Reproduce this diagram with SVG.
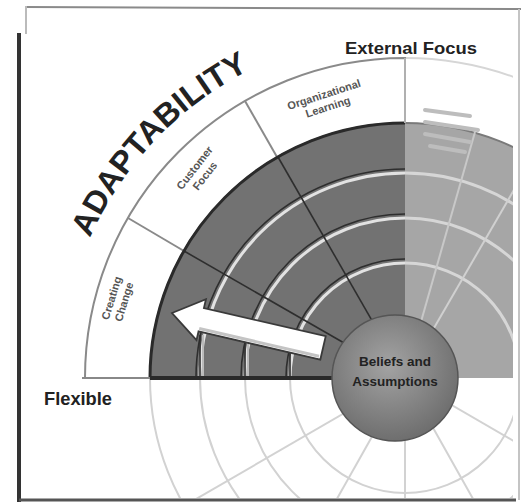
<svg xmlns="http://www.w3.org/2000/svg" width="524" height="504" viewBox="0 0 524 504">
  <defs>
    <style>
      .lbl{font-family:"Liberation Sans",Arial,sans-serif;font-weight:bold;fill:#222}
      .seg{font-family:"Liberation Sans",Arial,sans-serif;font-weight:bold;font-size:11px;fill:#555;text-anchor:middle}
      .faint{fill:none;stroke:#d2d2d2;stroke-width:2}
      .wline{fill:none;stroke:#e2e2e2;stroke-width:3}
      .dline{fill:none;stroke:#2e2e2e;stroke-width:1.6}
    </style>
    <clipPath id="ul"><rect x="20" y="10" width="385" height="368"/></clipPath>
    <clipPath id="ur"><rect x="405" y="10" width="108" height="368"/></clipPath>
    <clipPath id="lo"><rect x="22" y="378" width="491" height="120"/></clipPath>
    <radialGradient id="core" cx="0.45" cy="0.4" r="0.65">
      <stop offset="0" stop-color="#a3a3a3"/>
      <stop offset="1" stop-color="#6a6a6a"/>
    </radialGradient>
    <path id="arcText" d="M 90,238 A 345 345 0 0 1 276,58"/>
  </defs>

  <rect width="524" height="504" fill="#fff"/>

  <!-- frame -->
  <g id="frame">
    <line x1="25" y1="7" x2="521" y2="9" stroke="#8a8a8a" stroke-width="2"/>
    <line x1="519" y1="9" x2="519" y2="500" stroke="#c4c4c4" stroke-width="2"/>
    <line x1="19" y1="33" x2="19" y2="502" stroke="#333" stroke-width="4"/>
    <line x1="19" y1="500" x2="516" y2="500" stroke="#555" stroke-width="3"/>
    <line x1="26" y1="6" x2="26" y2="34" stroke="#bbb" stroke-width="2"/>
  </g>

  <!-- lower faded quadrants -->
  <g id="lower-quadrants" clip-path="url(#lo)">
    <circle cx="405" cy="378" r="255" class="faint" stroke="#c4c4c4"/>
    <circle cx="405" cy="378" r="205" class="faint"/>
    <circle cx="405" cy="378" r="160" class="faint"/>
    <circle cx="405" cy="378" r="115" class="faint"/>
    <line x1="405" y1="378" x2="184" y2="506" class="faint"/>
    <line x1="405" y1="378" x2="280" y2="600" class="faint"/>
    <line x1="405" y1="378" x2="530" y2="600" class="faint"/>
    <line x1="405" y1="378" x2="626" y2="506" class="faint"/>
    <line x1="405" y1="378" x2="405" y2="500" class="faint"/>
  </g>

  <!-- upper right faded quadrant -->
  <g id="upper-right-quadrant" clip-path="url(#ur)">
    <circle cx="405" cy="378" r="255" fill="#a6a6a6"/>
    <circle cx="405" cy="378" r="320" fill="none" stroke="#d6d6d6" stroke-width="2"/>
    <circle cx="405" cy="378" r="255" fill="none" stroke="#7a7a7a" stroke-width="2"/>
    <circle cx="405" cy="378" r="205" fill="none" stroke="#d6d6d6" stroke-width="3"/>
    <circle cx="405" cy="378" r="160" fill="none" stroke="#d6d6d6" stroke-width="3"/>
    <circle cx="405" cy="378" r="115" fill="none" stroke="#d6d6d6" stroke-width="3"/>
    <line x1="405" y1="378" x2="533" y2="157" stroke="#d0d0d0" stroke-width="2"/>
    <line x1="405" y1="378" x2="475" y2="132" stroke="#c8c8c8" stroke-width="2"/>
    <g stroke="#bdbdbd" stroke-width="4" stroke-linecap="round">
      <line x1="425" y1="110" x2="470" y2="116"/>
      <line x1="425" y1="122" x2="478" y2="130"/>
      <line x1="425" y1="134" x2="470" y2="142"/>
      <line x1="430" y1="146" x2="465" y2="152"/>
    </g>
  </g>

  <!-- upper left: ADAPTABILITY band -->
  <g id="adaptability-band">
    <path d="M 85,378 A 320 320 0 0 1 405,58 L 405,123 A 255 255 0 0 0 150,378 Z" fill="#fff" stroke="#8a8a8a" stroke-width="2"/>
    <line x1="128" y1="218" x2="184" y2="251" stroke="#8a8a8a" stroke-width="2"/>
    <line x1="245" y1="101" x2="277" y2="157" stroke="#8a8a8a" stroke-width="2"/>
    <text class="lbl" font-size="32" textLength="236" lengthAdjust="spacingAndGlyphs"><textPath href="#arcText">ADAPTABILITY</textPath></text>
  </g>

  <g id="creating-change">
    <text class="seg" transform="translate(118,300) rotate(-73)"><tspan x="0" y="-3">Creating</tspan><tspan x="0" y="10">Change</tspan></text>
  </g>
  <g id="customer-focus">
    <text class="seg" transform="translate(200,172) rotate(-52)"><tspan x="0" y="-3">Customer</tspan><tspan x="0" y="10">Focus</tspan></text>
  </g>
  <g id="organizational-learning">
    <text class="seg" transform="translate(326,101) rotate(-18)"><tspan x="0" y="-3">Organizational</tspan><tspan x="0" y="10">Learning</tspan></text>
  </g>

  <!-- dark quadrant -->
  <g id="dark-quadrant" clip-path="url(#ul)">
    <path d="M 150,378 A 255 255 0 0 1 405,123 L 405,378 Z" fill="#727272"/>
    <circle cx="405" cy="378" r="205" class="wline"/>
    <circle cx="405" cy="378" r="209" class="dline"/>
    <circle cx="405" cy="378" r="160" class="wline"/>
    <circle cx="405" cy="378" r="164" class="dline"/>
    <circle cx="405" cy="378" r="115" class="wline"/>
    <circle cx="405" cy="378" r="119" class="dline"/>
    <line x1="405" y1="378" x2="278" y2="157" class="dline"/>
    <line x1="405" y1="378" x2="184" y2="251" class="dline"/>
    <line x1="200" y1="335" x2="200" y2="378" class="dline"/>
    <line x1="245" y1="338" x2="245" y2="378" class="dline"/>
    <line x1="290" y1="345" x2="290" y2="378" class="dline"/>
    <line x1="203" y1="335" x2="203" y2="378" stroke="#bbb" stroke-width="2"/>
    <line x1="248" y1="340" x2="248" y2="378" stroke="#bbb" stroke-width="2"/>
    <circle cx="405" cy="378" r="255" fill="none" stroke="#2a2a2a" stroke-width="3"/>
  </g>

  <!-- axis lines -->
  <g id="axes">
    <line x1="82" y1="378" x2="150" y2="378" stroke="#888" stroke-width="2"/>
    <line x1="150" y1="378" x2="405" y2="378" stroke="#2a2a2a" stroke-width="4"/>
    <line x1="405" y1="58" x2="405" y2="123" stroke="#b0b0b0" stroke-width="2"/>
  </g>

  <!-- core -->
  <g id="beliefs-and-assumptions">
    <circle cx="395" cy="378" r="63" fill="url(#core)" stroke="#555" stroke-width="1.5"/>
    <text class="lbl" font-size="13.5" text-anchor="middle"><tspan x="395" y="366">Beliefs and</tspan><tspan x="395" y="386">Assumptions</tspan></text>
  </g>

  <!-- connectors -->
  <g id="connectors">
    <g transform="translate(172,313) rotate(13)">
      <path d="M 0,0 L 30,-21 L 30,-12 L 155,-12 L 155,12 L 30,12 L 30,21 Z" fill="#fff" stroke="#3a3a3a" stroke-width="1.8"/>
      <line x1="30" y1="9" x2="153" y2="9" stroke="#c4c4c4" stroke-width="3"/>
    </g>
  </g>

  <g id="external-focus">
    <text class="lbl" x="345" y="54" font-size="17" textLength="132" lengthAdjust="spacingAndGlyphs">External Focus</text>
  </g>
  <g id="flexible">
    <text class="lbl" x="44" y="405" font-size="18" textLength="68" lengthAdjust="spacingAndGlyphs">Flexible</text>
  </g>
</svg>
